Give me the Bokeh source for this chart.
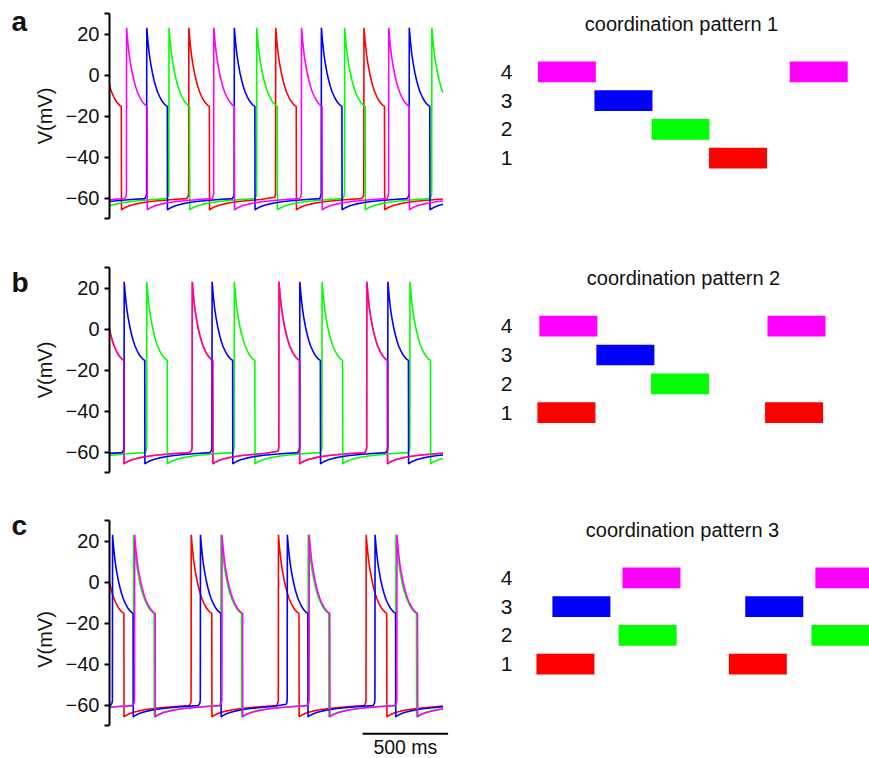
import numpy as np
from bokeh.plotting import figure
from bokeh.layouts import row, column
from bokeh.models import FixedTicker, Range1d, ColumnDataSource
from bokeh.core.properties import value
from bokeh.embed import file_html
from bokeh.resources import INLINE

# ------------------------------------------------------------------ data
neurons = ["1", "2", "3", "4"]
neuron_colors = {"1": "#ff0000", "2": "#00ff00", "3": "#0000ff", "4": "#ff00ff"}

# burst waveform (ms after burst onset, mV)
burst_t = [-6, -2, 0, 1, 8, 16, 24, 34, 44, 54, 64, 76, 88, 100, 112, 121, 122]
burst_v = [-59.6, -59.0, -57.5, 23.0, 16.0, 10.0, 5.5, 1.0, -2.7, -5.7, -8.3,
           -10.5, -12.4, -13.8, -14.8, -15.3, -65.8]
# after-burst recovery (ms after burst end, mV)
recov_t = [0, 10, 25, 50, 80, 120, 170, 230, 300, 380, 480]
recov_v = [-65.8, -65.2, -64.5, -63.7, -63.0, -62.3, -61.7, -61.2, -60.7, -60.3, -60.0]

t_end = 1950  # ms shown

# burst onset times (ms) for each neuron
onsets_a = {"1": [-52, 463, 971, 1487],
            "2": [-166, 347, 860, 1374, 1884],
            "3": [-295, 217, 729, 1238, 1752],
            "4": [-414, 99, 609, 1122, 1632]}
onsets_b = {"1": [-37, 483, 990, 1504],
            "2": [-296, 217, 729, 1242, 1756],
            "3": [-428, 85, 599, 1112, 1627],
            "4": [-37, 483, 990, 1504]}
onsets_c = {"1": [-37, 477, 987, 1500],
            "2": [-372, 140, 651, 1161, 1674],
            "3": [-496, 17, 531, 1039, 1552],
            "4": [-366, 146, 657, 1167, 1680]}

yticks = [-70, -60, -40, -20, 0, 20, 30]
scalebar_ms = 500
scalebar_label = "500 ms"

# coordination patterns: bar starts per neuron (same time units, bar length below)
bar_len = 120
pattern1 = {"1": [357], "2": [238], "3": [120], "4": [3, 524]}
pattern2 = {"1": [2, 473], "2": [237], "3": [124], "4": [6, 478]}
pattern3 = {"1": [0, 398], "2": [170, 569], "3": [33, 432], "4": [178, 577]}
titles = ["coordination pattern 1", "coordination pattern 2", "coordination pattern 3"]
letters = ["a", "b", "c"]

# ------------------------------------------------------------------ layout constants
FONT = "Liberation Sans"
PX_PER_MS = 0.172
PX_PER_MV = 2.05
ROW_H = [260, 245, 253]
LET_W = 30
LB = 77
FRAME_W = 348
RB = 15
LEFT_W = LB + FRAME_W + RB
RIGHT_W = 869 - LET_W - LEFT_W
R_LB = 50
ROW_PX = 28.8
BAR_PX_PER_UNIT = 58 / 120
L_TOP = [13, 7, 15]
ROW4_Y = [71.3, 65.7, 72.3]
TITLE_Y = [23.5, 17.8, 24.0]
TITLE_X = [681, 683, 682]
LETTER_X = 11
LETTER_Y = [21, 22, 20]


def build_trace(onsets):
    ts, vs = [], []
    for i, on in enumerate(onsets):
        if i > 0:
            drop = onsets[i - 1] + burst_t[-1]
            for rt, rv in zip(recov_t, recov_v):
                if drop + rt < on + burst_t[0]:
                    ts.append(drop + rt)
                    vs.append(rv)
        for bt, bv in zip(burst_t, burst_v):
            ts.append(on + bt)
            vs.append(bv)
    drop = onsets[-1] + burst_t[-1]
    for rt, rv in zip(recov_t, recov_v):
        ts.append(drop + rt)
        vs.append(rv)
    ts = np.array(ts, dtype=float)
    vs = np.array(vs, dtype=float)
    v_end = np.interp(t_end, ts, vs)
    keep = ts < t_end
    return np.append(ts[keep], t_end), np.append(vs[keep], v_end)


def letter_fig(letter, height, baseline):
    p = figure(width=LET_W, height=height, x_range=Range1d(0, LET_W),
               y_range=Range1d(height, 0), output_backend="svg", toolbar_location=None,
               x_axis_location=None, y_axis_location=None, frame_align=False,
               min_border_left=0, min_border_right=0, min_border_top=0, min_border_bottom=0)
    p.grid.visible = False
    p.outline_line_color = None
    p.text(x=[LETTER_X], y=[baseline], text=[letter], text_baseline="alphabetic",
           text_align="left", text_font=value(FONT), text_font_size="28px",
           text_font_style="bold", text_color="#111111")
    return p


def trace_fig(onsets, height, top, y_lo, alpha4=1.0, scalebar=False):
    frame_h = (30 - y_lo) * PX_PER_MV
    p = figure(width=LEFT_W, height=height,
               x_range=Range1d(0, FRAME_W / PX_PER_MS), y_range=Range1d(y_lo, 30),
               output_backend="svg", toolbar_location=None, x_axis_location=None,
               frame_align=False,
               min_border_left=LB, min_border_right=RB, min_border_top=top,
               min_border_bottom=max(0, int(round(height - top - frame_h))))
    p.grid.visible = False
    p.outline_line_color = None
    for nid in neurons:
        t, v = build_trace(onsets[nid])
        p.line(t, v, line_color=neuron_colors[nid], line_width=1.6,
               line_alpha=(alpha4 if nid == "4" else 1.0))
    ax = p.yaxis[0]
    ax.ticker = FixedTicker(ticks=yticks)
    ax.major_label_overrides = {-70: "", 30: ""}
    ax.bounds = (-70, 30)
    ax.axis_line_width = 2
    ax.major_tick_line_width = 2
    ax.major_tick_in = 0
    ax.major_tick_out = 5
    ax.minor_tick_line_color = None
    ax.major_label_standoff = 5
    ax.major_label_text_font = FONT
    ax.major_label_text_font_size = "20px"
    ax.major_label_text_color = "#111111"
    ax.axis_label = "V(mV)"
    ax.axis_label_text_font = FONT
    ax.axis_label_text_font_size = "20px"
    ax.axis_label_text_font_style = "normal"
    ax.axis_label_text_color = "#111111"
    ax.axis_label_standoff = 7
    if scalebar:
        x0 = 1480
        p.segment(x0=[x0], x1=[x0 + scalebar_ms], y0=[-74], y1=[-74],
                  line_color="black", line_width=2)
        p.text(x=[x0 + scalebar_ms / 2], y=[-80.7], text=[scalebar_label],
               text_align="center", text_baseline="middle",
               text_font=value(FONT), text_font_size="19.5px", text_color="#111111")
    return p


def pattern_fig(pattern, height, title, row4_y, title_y, title_x):
    y_hi = 4 + row4_y / ROW_PX
    y_lo = y_hi - height / ROW_PX
    x_lo = -33
    x_hi = x_lo + (RIGHT_W - R_LB) / BAR_PX_PER_UNIT
    p = figure(width=RIGHT_W, height=height,
               x_range=Range1d(x_lo, x_hi), y_range=Range1d(y_lo, y_hi),
               output_backend="svg", toolbar_location=None, x_axis_location=None,
               frame_align=False,
               min_border_left=R_LB, min_border_right=0, min_border_top=0,
               min_border_bottom=0)
    p.grid.visible = False
    p.outline_line_color = None
    frame_left_page = LET_W + LEFT_W + R_LB
    p.text(x=[x_lo + (title_x - frame_left_page) / BAR_PX_PER_UNIT],
           y=[y_hi - title_y / ROW_PX], text=[title],
           text_align="center", text_baseline="middle",
           text_font=value(FONT), text_font_size="20px", text_color="#111111")
    rows_, lefts, rights, cols = [], [], [], []
    for nid in neurons:
        for s in pattern[nid]:
            rows_.append(int(nid))
            lefts.append(s)
            rights.append(s + bar_len)
            cols.append(neuron_colors[nid])
    src = ColumnDataSource(dict(row=rows_, left=lefts, right=rights, color=cols))
    p.hbar(y="row", left="left", right="right", height=0.72, fill_color="color",
           line_color=None, source=src)
    ax = p.yaxis[0]
    ax.ticker = FixedTicker(ticks=[1, 2, 3, 4])
    ax.axis_line_color = None
    ax.major_tick_line_color = None
    ax.minor_tick_line_color = None
    ax.major_tick_out = 0
    ax.major_tick_in = 0
    ax.major_label_standoff = 8
    ax.major_label_text_font = FONT
    ax.major_label_text_font_size = "21px"
    ax.major_label_text_color = "#111111"
    return p


rows_layout = []
onsets_all = [onsets_a, onsets_b, onsets_c]
patterns = [pattern1, pattern2, pattern3]
for k in range(3):
    h = ROW_H[k]
    if k < 2:
        y_lo = -70
        lf = trace_fig(onsets_all[k], h, L_TOP[k], y_lo, alpha4=(0.6 if k == 1 else 1.0))
    else:
        y_lo = 30 - (h - L_TOP[k]) / PX_PER_MV
        lf = trace_fig(onsets_all[k], h, L_TOP[k], y_lo, scalebar=True)
    rows_layout.append(row(letter_fig(letters[k], h, LETTER_Y[k]), lf,
                           pattern_fig(patterns[k], h, titles[k], ROW4_Y[k],
                                       TITLE_Y[k], TITLE_X[k])))

layout = column(*rows_layout)
open("out.html", "w").write(file_html(layout, INLINE))
